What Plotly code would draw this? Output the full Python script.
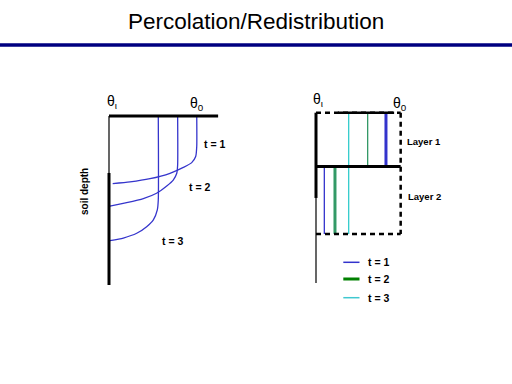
import plotly.graph_objects as go

# ---------------- data ----------------
TITLE = "Percolation/Redistribution"
TIME_LABELS = ["t = 1", "t = 2", "t = 3"]
LAYER_NAMES = ["Layer 1", "Layer 2"]
DEPTH_LABEL = "soil depth"

# Left panel: relative water content (0 = theta_i, 1 = theta_0) vs relative depth
CURVE_T1_THETA = [0.997, 0.997, 0.985, 0.94, 0.845, 0.693, 0.466, 0.239, 0.042]
CURVE_T1_DEPTH = [0.0, 0.18, 0.24, 0.276, 0.304, 0.339, 0.371, 0.39, 0.40]
CURVE_T2_THETA = [0.78, 0.78, 0.77, 0.73, 0.656, 0.54, 0.39, 0.20, 0.01]
CURVE_T2_DEPTH = [0.0, 0.29, 0.339, 0.379, 0.414, 0.457, 0.489, 0.513, 0.533]
CURVE_T3_THETA = [0.56, 0.56, 0.549, 0.504, 0.428, 0.315, 0.163, 0.011]
CURVE_T3_DEPTH = [0.0, 0.497, 0.556, 0.615, 0.655, 0.694, 0.722, 0.738]

# Right panel: layered soil, water content of each layer at each time
LAYER_BOUNDS = [0.0, 0.4435, 1.0]
LAYER1_THETA = [0.833, 0.615, 0.389]
LAYER2_THETA = [0.099, 0.226, 0.389]

# ---------------- style / layout ----------------
W, H = 512, 384
FONT = "Arial, Liberation Sans, sans-serif"
BLUE = "#3535cc"
LINE_COLORS = ["#3333cc", "#339966", "#33cccc"]
LAYER1_WIDTHS = [3, 1.3, 1.3]
LAYER2_WIDTHS = [1.3, 3, 1.3]
LEGEND_COLORS = ["#3333cc", "#008000", "#40c8d0"]
LEGEND_WIDTHS = [1.5, 3, 1.5]


def px(x):
    return x / W


def py(y):
    return 1 - y / H


# left panel mapping: theta=(X-109)/88, depth=(Y-116)/169
L_X0, L_XS, L_Y0, L_YS = 109, 88, 116, 169
L_BOX = (95, 235, 100, 295)
# right panel mapping: theta=(X-316)/84, depth=(Y-112.7)/121.3
R_X0, R_XS, R_Y0, R_YS = 316, 84, 112.7, 121.3
R_BOX = (300, 415, 100, 295)


def axes_for(box, x0, xs, y0, ys):
    xa = dict(domain=[px(box[0]), px(box[1])],
              range=[(box[0] - x0) / xs, (box[1] - x0) / xs],
              visible=False, fixedrange=True)
    ya = dict(domain=[py(box[3]), py(box[2])],
              range=[(box[3] - y0) / ys, (box[2] - y0) / ys],
              visible=False, fixedrange=True)
    return xa, ya


fig = go.Figure()

# left curves
for th, dp in [(CURVE_T1_THETA, CURVE_T1_DEPTH),
               (CURVE_T2_THETA, CURVE_T2_DEPTH),
               (CURVE_T3_THETA, CURVE_T3_DEPTH)]:
    fig.add_trace(go.Scatter(x=th, y=dp, mode="lines", xaxis="x", yaxis="y",
                             line=dict(color=BLUE, width=1.3, shape="spline", smoothing=0.6),
                             showlegend=False, hoverinfo="skip"))

# right panel vertical lines
for i in range(3):
    fig.add_trace(go.Scatter(x=[LAYER1_THETA[i], LAYER1_THETA[i]],
                             y=[LAYER_BOUNDS[0], LAYER_BOUNDS[1]],
                             mode="lines", xaxis="x2", yaxis="y2",
                             line=dict(color=LINE_COLORS[i], width=LAYER1_WIDTHS[i]),
                             showlegend=False, hoverinfo="skip"))
    fig.add_trace(go.Scatter(x=[LAYER2_THETA[i], LAYER2_THETA[i]],
                             y=[LAYER_BOUNDS[1], LAYER_BOUNDS[2]],
                             mode="lines", xaxis="x2", yaxis="y2",
                             line=dict(color=LINE_COLORS[i], width=LAYER2_WIDTHS[i]),
                             showlegend=False, hoverinfo="skip"))

shapes = []
# title underline
shapes.append(dict(type="line", xref="paper", yref="paper", x0=0, x1=1,
                   y0=py(45), y1=py(45), line=dict(color="#000080", width=3.5)))
# left panel frame
shapes.append(dict(type="line", xref="x", yref="y", x0=0, x1=1.24, y0=0, y1=0,
                   line=dict(color="black", width=3)))
shapes.append(dict(type="line", xref="x", yref="y", x0=0, x1=0, y0=0, y1=0.337,
                   line=dict(color="black", width=1.2)))
shapes.append(dict(type="line", xref="x", yref="y", x0=0, x1=0, y0=0.337, y1=1.0,
                   line=dict(color="black", width=3)))
# right panel frame
R_RIGHT = 1.008
dash = "5px,4px"
shapes.append(dict(type="line", xref="x2", yref="y2", x0=0, x1=R_RIGHT, y0=0, y1=0,
                   line=dict(color="black", width=2.5, dash=dash)))
shapes.append(dict(type="line", xref="x2", yref="y2", x0=0.26, x1=0.93, y0=0, y1=0,
                   line=dict(color="black", width=2.5)))
shapes.append(dict(type="line", xref="x2", yref="y2", x0=R_RIGHT, x1=R_RIGHT, y0=0, y1=1,
                   line=dict(color="black", width=2.5, dash=dash)))
shapes.append(dict(type="line", xref="x2", yref="y2", x0=0, x1=R_RIGHT, y0=1, y1=1,
                   line=dict(color="black", width=2.5, dash=dash)))
shapes.append(dict(type="line", xref="x2", yref="y2", x0=0, x1=R_RIGHT,
                   y0=LAYER_BOUNDS[1], y1=LAYER_BOUNDS[1],
                   line=dict(color="black", width=3)))
shapes.append(dict(type="line", xref="x2", yref="y2", x0=0, x1=0, y0=0, y1=0.703,
                   line=dict(color="black", width=3)))
shapes.append(dict(type="line", xref="x2", yref="y2", x0=0, x1=0, y0=0.703, y1=1.404,
                   line=dict(color="black", width=1.2)))
# legend samples
LEG_Y = [262.3, 279, 297.7]
for i in range(3):
    shapes.append(dict(type="line", xref="paper", yref="paper", x0=px(343.3), x1=px(359.5),
                       y0=py(LEG_Y[i]), y1=py(LEG_Y[i]),
                       line=dict(color=LEGEND_COLORS[i], width=LEGEND_WIDTHS[i])))

ann = []


def text(x, y, s, size=10, bold=True, angle=0):
    ann.append(dict(x=px(x), y=py(y), xref="paper", yref="paper", text=s,
                    showarrow=False, xanchor="center", yanchor="middle", textangle=angle,
                    font=dict(family=FONT, size=size, color="black"),
                    ))
    if bold:
        ann[-1]["text"] = "<b>" + s + "</b>"


text(256, 22, TITLE, size=22.5, bold=False)
text(84, 192, DEPTH_LABEL, size=10, angle=-90)
# time labels on left panel
for (x, y), s in zip([(214, 144), (199, 187.3), (172, 240.7)], TIME_LABELS):
    text(x, y, s, size=10.5)
# layer labels
text(424, 141, LAYER_NAMES[0], size=9.5)
text(424, 196.7, LAYER_NAMES[1], size=9.5)
# legend labels
for y, s in zip(LEG_Y, TIME_LABELS):
    text(378.5, y, s, size=10.5)
# theta labels
text(112, 102, "θ<sub>ι</sub>", size=14, bold=False)
text(197, 104, "θ<sub>0</sub>", size=14, bold=False)
text(318, 100, "θ<sub>ι</sub>", size=14, bold=False)
text(400, 104, "θ<sub>0</sub>", size=14, bold=False)

lx, ly = axes_for(L_BOX, L_X0, L_XS, L_Y0, L_YS)
rx, ry = axes_for(R_BOX, R_X0, R_XS, R_Y0, R_YS)
fig.update_layout(
    width=W, height=H, margin=dict(l=0, r=0, t=0, b=0),
    paper_bgcolor="white", plot_bgcolor="rgba(0,0,0,0)",
    xaxis=dict(lx, anchor="y"), yaxis=dict(ly, anchor="x"),
    xaxis2=dict(rx, anchor="y2"), yaxis2=dict(ry, anchor="x2"),
    shapes=shapes, annotations=ann, showlegend=False,
)
fig.write_html("out.html", config={"displayModeBar": False},
               post_script="document.body.style.margin='0';document.body.style.overflow='hidden';")
